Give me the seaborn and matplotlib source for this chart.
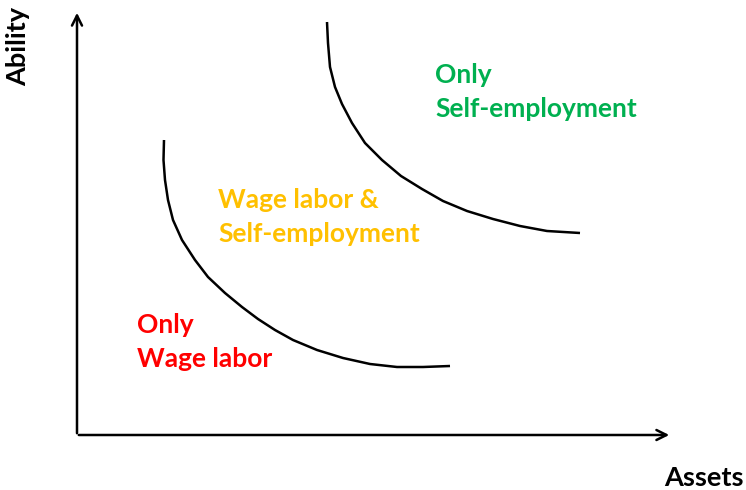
import matplotlib
matplotlib.use("Agg")
import matplotlib.pyplot as plt
import seaborn as sns
import pandas as pd

# Boundary curves (x = assets, y = ability, in picture units; y grows downward)
lower_x = [164, 163.5, 165, 168, 173, 182, 195, 208, 225, 242, 258, 275, 293, 317, 343, 370, 397, 423, 450]
lower_y = [140, 160, 180, 200, 220, 240, 260, 277, 293, 307, 319, 330, 340, 350, 358, 364, 367, 367, 366]
upper_x = [327, 328, 330, 335, 342, 352, 365, 382, 401, 422, 443, 467, 493, 520, 547, 580]
upper_y = [22, 43, 67, 87, 104, 123, 143, 160, 176, 189, 201, 211, 219, 226, 231, 233]

region_labels = ["Only\nSelf-employment", "Wage labor &\nSelf-employment", "Only\nWage labor"]
region_colors = ["#00B050", "#FFC000", "#FF0000"]
region_pos = [(435, 92), (218, 217), (137, 342)]

x_label = "Assets"
y_label = "Ability"

sns.set_theme(style="white")
plt.rcParams['font.family'] = ['Lato', 'DejaVu Sans']

fig = plt.figure(figsize=(7.46, 4.90), dpi=100)
ax = fig.add_axes([0, 0, 1, 1])
ax.set_xlim(0, 746)
ax.set_ylim(490, 0)
ax.axis("off")

df_lower = pd.DataFrame({"x": lower_x, "y": lower_y})
df_upper = pd.DataFrame({"x": upper_x, "y": upper_y})
for d in (df_lower, df_upper):
    sns.lineplot(data=d, x="x", y="y", sort=False, color="black", lw=1.8, ax=ax,
                 solid_joinstyle="round", solid_capstyle="butt")

# axes arrows
ax.annotate("", xy=(672, 435), xytext=(76, 435),
            arrowprops=dict(arrowstyle="->", lw=1.8, color="black", mutation_scale=18))
ax.annotate("", xy=(77, 10), xytext=(77, 436),
            arrowprops=dict(arrowstyle="->", lw=1.8, color="black", mutation_scale=18))

ax.text(704, 478, x_label, ha="center", va="center", fontsize=19.5, fontweight="bold", color="black")
ax.text(18, 47, y_label, ha="center", va="center", rotation=90, fontsize=19.5, fontweight="bold", color="black")

for lab, col, (px, py) in zip(region_labels, region_colors, region_pos):
    ax.text(px, py, lab, ha="left", va="center", fontsize=19, fontweight="bold",
            color=col, linespacing=1.5)

fig.savefig("out.png", dpi=100)
